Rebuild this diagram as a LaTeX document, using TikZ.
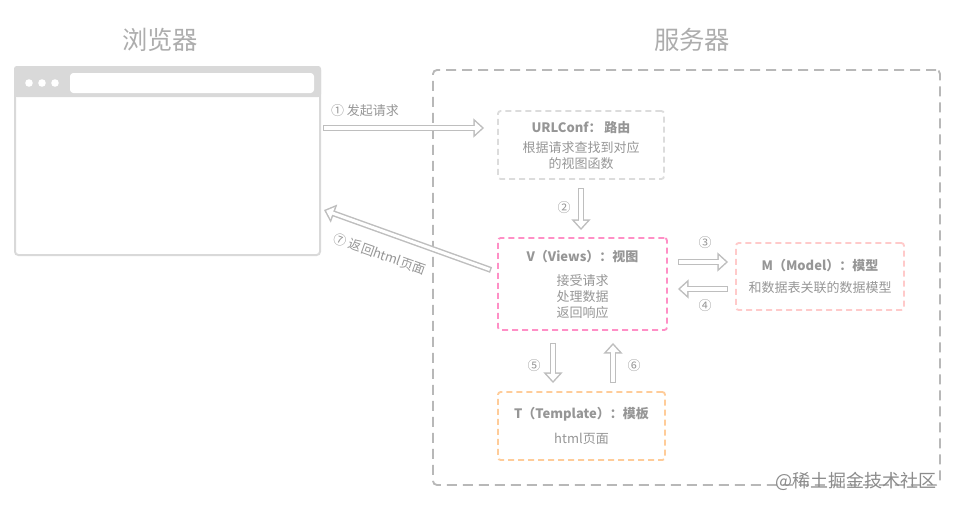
\documentclass[tikz,border=0pt]{standalone}
\usepackage{fontspec}
\setmainfont{Noto Sans CJK SC}
\usetikzlibrary{arrows.meta}

\definecolor{titlec}{HTML}{ADADAD}
\definecolor{txtc}{HTML}{969696}
\definecolor{winc}{HTML}{D9D9D9}
\definecolor{arrc}{HTML}{BEBEBE}
\definecolor{srvc}{HTML}{B8B8B8}
\definecolor{urlc}{HTML}{DCDCDC}
\definecolor{viewc}{HTML}{FF8FC6}
\definecolor{modelc}{HTML}{FFCACA}
\definecolor{tmplc}{HTML}{FFCC99}

\begin{document}
\begin{tikzpicture}[x=0.75pt, y=-0.75pt,
    txt/.style = {text=txtc, font=\fontsize{9.75}{12}\selectfont, align=center},
    box/.style = {draw, line width=1.4pt, dash pattern=on 4.5pt off 3pt, rounded corners=2pt,
                  inner sep=0pt, txt},
    harrow/.style = {draw=arrc, line width=4.5pt, -{Triangle[length=8pt, width=14pt]},
                     postaction={draw=white, line width=2.3pt, shorten <=1.1pt, shorten >=1.67pt,
                                 -{Triangle[length=5.2pt, width=9.1pt]}}},
    num/.style = {text=txtc, font=\fontsize{9.75}{12}\selectfont}]

    \useasboundingbox (0, 0) rectangle (955, 507);

    \node[text=titlec, font=\fontsize{19}{22}\selectfont] (tbrowser) at (160, 40) {浏览器};
    \node[text=titlec, font=\fontsize{19}{22}\selectfont] (tserver) at (692, 40) {服务器};

    \node[draw=winc, line width=1.5pt, rounded corners=2.5pt, minimum width=228.75pt,
          minimum height=141pt, inner sep=0pt] (browser) at (167.5, 161) {};
    \fill[winc, rounded corners=2pt] (browser.north west) rectangle ([shift={(0, 31)}]browser.north east);
    \fill[white] (29, 83) circle (3.8) (42, 83) circle (3.8) (55, 83) circle (3.8);
    \fill[white, rounded corners=2.5pt] (70, 73) rectangle (314, 93);

    \node[draw=srvc, line width=1.4pt, dash pattern=on 7.5pt off 4.5pt, rounded corners=3pt,
          minimum width=380.25pt, minimum height=311.25pt, inner sep=0pt] (server) at (686.5, 277.5) {};

    \node[box, draw=urlc, minimum width=124.5pt, minimum height=51pt] (url) at (581, 145)
        {\textbf{URLConf： 路由}\\[3pt]根据请求查找到对应\\的视图函数};
    \node[box, draw=viewc, minimum width=126.75pt, minimum height=69pt] (view) at (582.5, 284)
        {\textbf{V（Views）：视图}\\[6pt]接受请求\\处理数据\\返回响应};
    \node[box, draw=modelc, minimum width=126pt, minimum height=50.25pt] (model) at (820, 276.5)
        {\textbf{M（Model）：模型}\\[4.5pt]和数据表关联的数据模型};
    \node[box, draw=tmplc, minimum width=125.25pt, minimum height=51pt] (tmpl) at (581.5, 426)
        {\textbf{T（Template）：模板}\\[7pt]html页面};

    \draw[harrow] ([shift={(2, -33)}]browser.east) -- ([shift={(-13, -17)}]url.west);
    \draw[harrow] ([shift={(0, 8)}]url.south) -- ([shift={(-1.5, -7)}]view.north);
    \draw[harrow] ([shift={(10, -22)}]view.east) -- ([shift={(-7, -14.5)}]model.west);
    \draw[harrow] ([shift={(-7, 12.5)}]model.west) -- ([shift={(10, 5)}]view.east);
    \draw[harrow] ([shift={(-29.5, 12)}]view.south) -- ([shift={(-28.5, -8)}]tmpl.north);
    \draw[harrow] ([shift={(31.5, -8)}]tmpl.north) -- ([shift={(30.5, 12)}]view.south);
    \draw[harrow] ([shift={(-6, -14)}]view.west) -- ([shift={(3, 49)}]browser.east);

    \node[num] (l1) at (365, 111) {① 发起请求};
    \node[num] (l2) at (564, 208) {②};
    \node[num] (l3) at (705, 243) {③};
    \node[num] (l4) at (705, 306) {④};
    \node[num] (l5) at (534, 366) {⑤};
    \node[num] (l6) at (634, 366) {⑥};
    \node[num, rotate=-19.5] (l7) at (380, 254) {⑦ 返回html页面};

    \node[text=black!45, font=\fontsize{13.5}{16}\selectfont, anchor=east] (mark) at (941, 481) {@稀土掘金技术社区};

\end{tikzpicture}
\end{document}
